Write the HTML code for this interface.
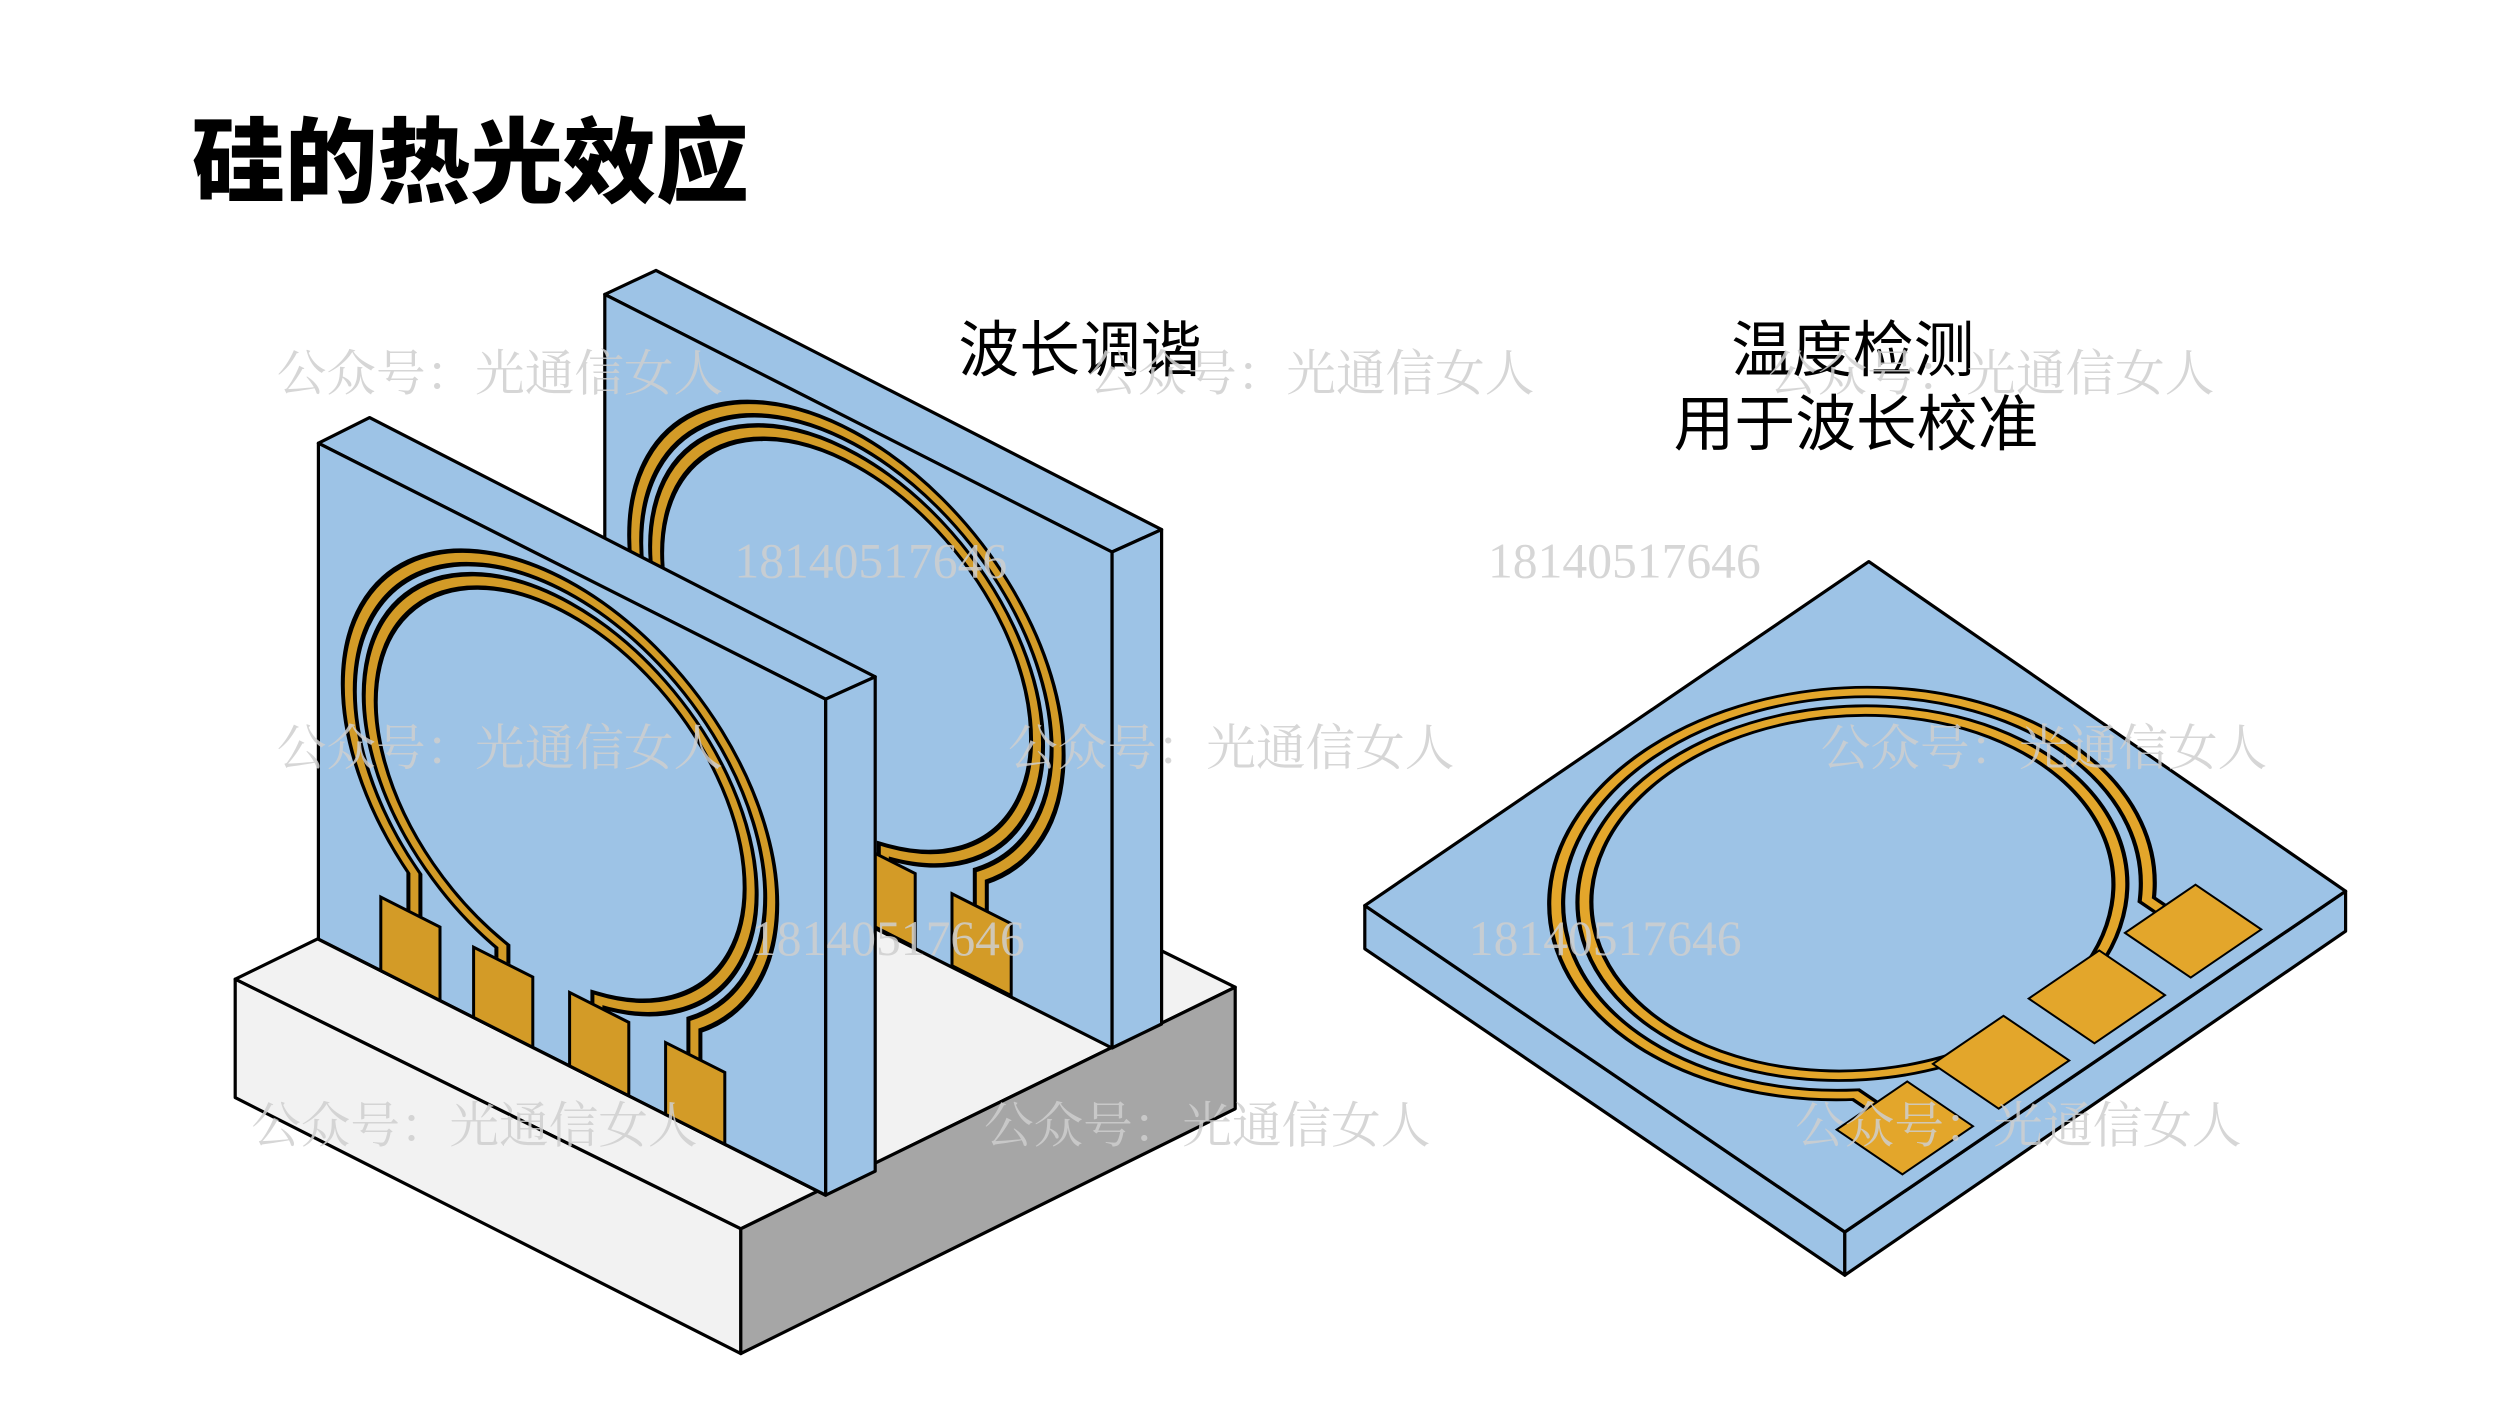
<!DOCTYPE html>
<html><head><meta charset="utf-8"><style>
html,body{margin:0;padding:0;background:#fff;}
svg{display:block;}
.wm{font-family:"Liberation Serif","Noto Serif CJK SC",serif;font-size:31px;fill:#cfcfcf;}
</style></head><body>
<svg width="2500" height="1406" viewBox="0 0 1562.5 878.75" xmlns="http://www.w3.org/2000/svg">
<rect width="1562.5" height="878.75" fill="#fff"/>
<text x="120" y="122" font-family="Liberation Sans,'Noto Sans CJK SC',sans-serif" font-weight="900" font-size="58" fill="#000">硅的热光效应</text>

<!-- Base -->
<g stroke="#000" stroke-width="2" stroke-linejoin="round">
<polygon points="147,612 456,461 772,617 463,768" fill="#f2f2f2"/>
<polygon points="147,612 463,768 463,846 147,686" fill="#f2f2f2"/>
<polygon points="463,768 772,617 772,693 463,846" fill="#a6a6a6"/>
</g>

<!-- Back slab -->
<g stroke="#000" stroke-width="2" stroke-linejoin="round">
<polygon points="378,184 410,169 726,331 695,345" fill="#9dc3e6"/>
<polygon points="695,345 726,331 726,640 695,655" fill="#9dc3e6"/>
<polygon points="378,184 695,345 695,655 378,495" fill="#9dc3e6"/>
</g>
<g transform="matrix(1,0.505,0,1,378,184)">
<g fill="none" stroke-linecap="butt">
<path d="M60,265 L60,238.6 A132,132 0 1 1 235,244.8 L235,265" stroke="#000" stroke-width="10"/>
<path d="M60,265 L60,238.6 A132,132 0 1 1 235,244.8 L235,265" stroke="#d39b27" stroke-width="5"/>
<path d="M115,265 L115,256.4 A119,119 0 1 1 175,259.6 L175,265" stroke="#000" stroke-width="10"/>
<path d="M115,265 L115,256.4 A119,119 0 1 1 175,259.6 L175,265" stroke="#d39b27" stroke-width="5"/>
</g>
<g fill="#d39b27" stroke="#000" stroke-width="3">
<polygon points="39,264 76,264 76,310 39,310" vector-effect="non-scaling-stroke"/>
<polygon points="97,266 134,266 134,310 97,310" vector-effect="non-scaling-stroke"/>
<polygon points="157,264 194,264 194,310 157,310" vector-effect="non-scaling-stroke"/>
<polygon points="217,265 254,265 254,310 217,310" vector-effect="non-scaling-stroke"/>
</g>
</g>

<!-- Front slab -->
<g stroke="#000" stroke-width="2" stroke-linejoin="round">
<polygon points="199,277 231,261 547,423 516,437" fill="#9dc3e6"/>
<polygon points="516,437 547,423 547,732 516,747" fill="#9dc3e6"/>
<polygon points="199,277 516,437 516,747 199,587" fill="#9dc3e6"/>
</g>
<g transform="matrix(1,0.505,0,1,199,277)">
<g fill="none">
<path d="M60,265 L60,238.6 A132,132 0 1 1 235,244.8 L235,265" stroke="#000" stroke-width="10"/>
<path d="M60,265 L60,238.6 A132,132 0 1 1 235,244.8 L235,265" stroke="#d39b27" stroke-width="5"/>
<path d="M115,265 L115,256.4 A119,119 0 1 1 175,259.6 L175,265" stroke="#000" stroke-width="10"/>
<path d="M115,265 L115,256.4 A119,119 0 1 1 175,259.6 L175,265" stroke="#d39b27" stroke-width="5"/>
</g>
<g fill="#d39b27" stroke="#000" stroke-width="3">
<polygon points="39,264 76,264 76,310 39,310" vector-effect="non-scaling-stroke"/>
<polygon points="97,266 134,266 134,310 97,310" vector-effect="non-scaling-stroke"/>
<polygon points="157,264 194,264 194,310 157,310" vector-effect="non-scaling-stroke"/>
<polygon points="217,265 254,265 254,310 217,310" vector-effect="non-scaling-stroke"/>
</g>
</g>
<line x1="199" y1="587" x2="516" y2="747" stroke="#000" stroke-width="2"/>

<!-- Chip -->
<g stroke="#000" stroke-width="2" stroke-linejoin="round" fill="#9dc3e6">
<polygon points="853,566 1153,770 1153,797 853,593"/>
<polygon points="1153,770 1466,557 1466,582 1153,797"/>
<polygon points="853,566 1168,351 1466,557 1153,770"/>
</g>
<g transform="matrix(0.3,0.204,0.315,-0.215,853,566)">
<g fill="none">
<path d="M850,211 L801.6,211 A425,425 0 1 0 807,783 L850,783" stroke="#000" stroke-width="26"/>
<path d="M850,211 L801.6,211 A425,425 0 1 0 807,783 L850,783" stroke="#e3a62b" stroke-width="14"/>
<path d="M880,402 L862,402 A385,385 0 1 0 864,592 L880,592" stroke="#000" stroke-width="26"/>
<path d="M880,402 L862,402 A385,385 0 1 0 864,592 L880,592" stroke="#e3a62b" stroke-width="14"/>
</g>
<g fill="#e3a62b" stroke="#000">
<polygon points="835,141 972,141 972,281 835,281" stroke-width="2" vector-effect="non-scaling-stroke"/>
<polygon points="835,332 972,332 972,472 835,472" stroke-width="2" vector-effect="non-scaling-stroke"/>
<polygon points="835,522 972,522 972,662 835,662" stroke-width="2" vector-effect="non-scaling-stroke"/>
<polygon points="835,713 972,713 972,853 835,853" stroke-width="2" vector-effect="non-scaling-stroke"/>
</g>
</g>

<!-- Labels -->
<g font-family="Liberation Sans,'Noto Sans CJK SC',sans-serif" font-size="38" fill="#000" text-anchor="middle">
<text x="675" y="232">波长调谐</text>
<text x="1158" y="232">温度检测</text>
<text x="1160" y="278">用于波长校准</text>
</g>

<!-- Watermarks -->
<g class="wm" opacity="0.85">
<text x="173" y="244">公众号：光通信女人</text>
<text x="680" y="244">公众号：光通信女人</text>
<text x="1105" y="244">公众号：光通信女人</text>
<text x="173" y="478">公众号：光通信女人</text>
<text x="630" y="478">公众号：光通信女人</text>
<text x="1138" y="478">公众号：光通信女人</text>
<text x="157" y="714">公众号：光通信女人</text>
<text x="615" y="714">公众号：光通信女人</text>
<text x="1122" y="714">公众号：光通信女人</text>
<text x="459" y="361">18140517646</text>
<text x="930" y="361">18140517646</text>
<text x="470" y="597">18140517646</text>
<text x="918" y="597">18140517646</text>
</g>
</svg>
</body></html>
